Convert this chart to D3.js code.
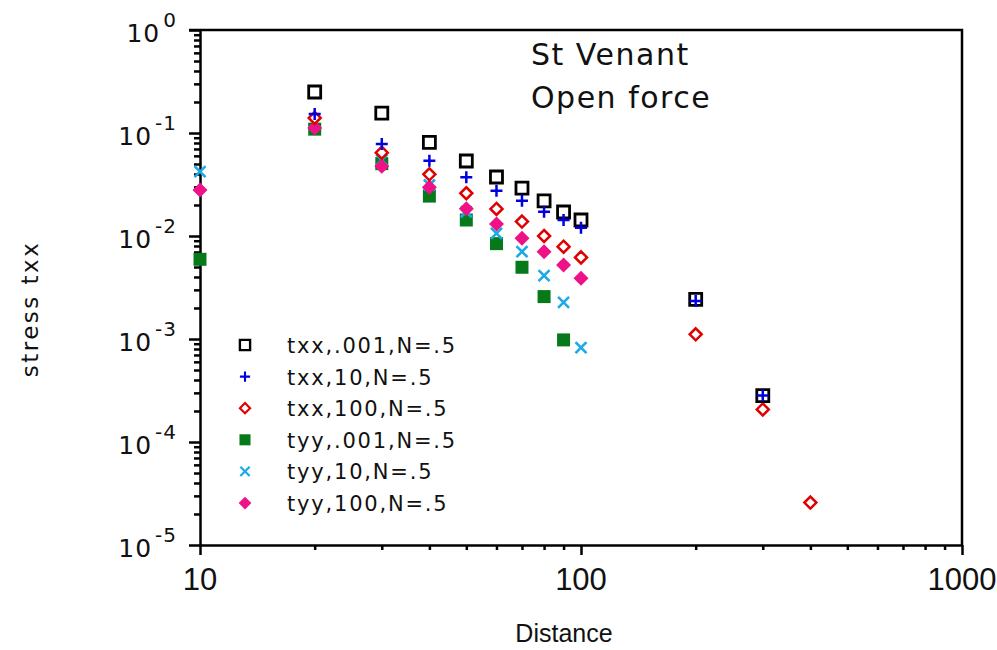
<!DOCTYPE html>
<html>
<head>
<meta charset="utf-8">
<script src="https://cdn.jsdelivr.net/npm/d3@7"></script>
<style>
  body { margin: 0; background: #fff; }
  text { font-family: "DejaVu Sans", Verdana, sans-serif; fill: #111; }
  .narrow { font-family: "Liberation Sans Narrow", "Liberation Sans", Arial, sans-serif; }
</style>
</head>
<body>
<script>
// distances
const dist = [10, 20, 30, 40, 50, 60, 70, 80, 90, 100, 200, 300, 400];

// series values (null = no point)
const txx001  = [null, 0.25, 0.156, 0.081, 0.0535, 0.0374, 0.0292, 0.0219, 0.0171, 0.0143, 0.00242, 0.000282, null];
const txx10   = [null, 0.153, 0.078, 0.0538, 0.0371, 0.0275, 0.022, 0.0172, 0.0143, 0.012, 0.00234, 0.000282, null];
const txx100  = [null, 0.14, 0.0644, 0.0397, 0.026, 0.0183, 0.0138, 0.01, 0.00787, 0.0062, 0.00111, 0.000207, 0.0000258];
const tyy001  = [0.00594, 0.109, 0.0504, 0.0244, 0.0143, 0.00843, 0.00497, 0.00258, 0.00098, null, null, null, null];
const tyy10   = [0.0421, 0.126, 0.0547, 0.0313, 0.0172, 0.0106, 0.00704, 0.00412, 0.00227, 0.000824, null, null, null];
const tyy100  = [0.028, 0.112, 0.0475, 0.0297, 0.0184, 0.0131, 0.0095, 0.00704, 0.00523, 0.00388, null, null, null];

const seriesNames = ["txx,.001,N=.5", "txx,10,N=.5", "txx,100,N=.5", "tyy,.001,N=.5", "tyy,10,N=.5", "tyy,100,N=.5"];
const yTickExp = [0, -1, -2, -3, -4, -5];
const xTickLabels = [10, 100, 1000];

const W = 997, H = 650;
const svg = d3.select("body").append("svg").attr("width", W).attr("height", H);

const x = d3.scaleLog().domain([10, 1000]).range([200, 962]);
const y = d3.scaleLog().domain([1e-5, 1]).range([545, 30]);

// minor/major tick values
const yTicks = [];
for (let e = -5; e < 0; e++) for (let m = 1; m <= 9; m++) yTicks.push(m * Math.pow(10, e));
yTicks.push(1);
const xTicks = [];
for (let e = 1; e < 3; e++) for (let m = 1; m <= 9; m++) xTicks.push(m * Math.pow(10, e));
xTicks.push(1000);
const isMajor = v => Math.abs(Math.log10(v) - Math.round(Math.log10(v))) < 1e-9;

const yAxis = svg.append("g").attr("transform", "translate(200,0)")
  .call(d3.axisLeft(y).tickValues(yTicks).tickFormat("").tickSizeOuter(0));
yAxis.selectAll(".tick line").attr("x2", d => isMajor(d) ? -11 : -6);

const xAxis = svg.append("g").attr("transform", "translate(0,545)")
  .call(d3.axisBottom(x).tickValues(xTicks).tickFormat("").tickSizeOuter(0));
xAxis.selectAll(".tick line").attr("y2", d => isMajor(d) ? 10 : 5);

[yAxis, xAxis].forEach(g => {
  g.selectAll("path.domain, line").attr("stroke", "#000").attr("stroke-width", 2.5);
});

// frame top and right
svg.append("path")
  .attr("d", `M${x(10) - 11},${y(1)}H${x(1000)}V${y(1e-5)}`)
  .attr("fill", "none").attr("stroke", "#000").attr("stroke-width", 2.5);

// y tick labels
const yl = svg.append("g").selectAll("text").data(yTickExp).enter().append("text")
  .attr("x", 177).attr("y", d => y(Math.pow(10, d)) + 12)
  .attr("text-anchor", "end").style("font-size", "25px").style("letter-spacing", "1px");
yl.append("tspan").text("10");
yl.append("tspan").attr("dy", -15).attr("dx", 3).style("font-size", "20px").text(d => d === 0 ? "0" : "-" + (-d));

// x tick labels
svg.append("g").selectAll("text").data(xTickLabels).enter().append("text")
  .attr("class", "narrow")
  .attr("x", d => x(d)).attr("y", 590)
  .attr("text-anchor", "middle").style("font-size", "31px")
  .text(d => d);

svg.append("text").attr("class", "narrow")
  .attr("x", 564).attr("y", 642).attr("text-anchor", "middle")
  .style("font-size", "25px").text("Distance");

svg.append("text")
  .attr("transform", "translate(38,309) rotate(-90)")
  .attr("text-anchor", "middle").style("font-size", "23px").style("letter-spacing", "2.5px")
  .text("stress txx");

svg.append("text").attr("x", 531).attr("y", 65).style("font-size", "30px").style("letter-spacing", "1.5px").text("St Venant");
svg.append("text").attr("x", 531).attr("y", 108).style("font-size", "30px").style("letter-spacing", "1.5px").text("Open force");

// marker shapes
const shapes = [
  { path: "M-6,-6H6V6H-6Z", stroke: "#000", fill: "none", sw: 2.8 },
  { path: "M-6,0H6M0,-6V6", stroke: "#0000e0", fill: "none", sw: 2.5 },
  { path: "M0,-6L6,0L0,6L-6,0Z", stroke: "#e00000", fill: "#fff", sw: 2.5 },
  { path: "M-6.5,-6.5H6.5V6.5H-6.5Z", stroke: "none", fill: "#067a1a", sw: 0 },
  { path: "M-5.5,-5.5L5.5,5.5M-5.5,5.5L5.5,-5.5", stroke: "#19aae8", fill: "none", sw: 2.6 },
  { path: "M0,-7.5L7.5,0L0,7.5L-7.5,0Z", stroke: "none", fill: "#ee1188", sw: 0 }
];
const allSeries = [txx001, txx10, txx100, tyy001, tyy10, tyy100];

// drawing order: green, cyan, pink, red, black, blue
const order = [3, 4, 5, 2, 0, 1];
order.forEach(si => {
  const s = shapes[si];
  const pts = dist.map((d, i) => [d, allSeries[si][i]]).filter(p => p[1] != null);
  svg.append("g").selectAll("path").data(pts).enter().append("path")
    .attr("d", s.path)
    .attr("transform", p => `translate(${x(p[0])},${y(p[1])})`)
    .attr("fill", s.fill).attr("stroke", s.stroke).attr("stroke-width", s.sw);
});

// legend
const leg = svg.append("g").selectAll("g").data(seriesNames).enter().append("g")
  .attr("transform", (d, i) => `translate(245,${345 + i * 31.6})`);
leg.append("path")
  .attr("d", (d, i) => shapes[i].path)
  .attr("fill", (d, i) => shapes[i].fill === "#fff" ? "none" : shapes[i].fill)
  .attr("stroke", (d, i) => shapes[i].stroke)
  .attr("stroke-width", (d, i) => shapes[i].sw)
  .attr("transform", "scale(0.85)");
leg.append("text").attr("x", 42).attr("y", 8)
  .style("font-size", "21px").style("letter-spacing", "1.8px")
  .text(d => d);
</script>
</body>
</html>
